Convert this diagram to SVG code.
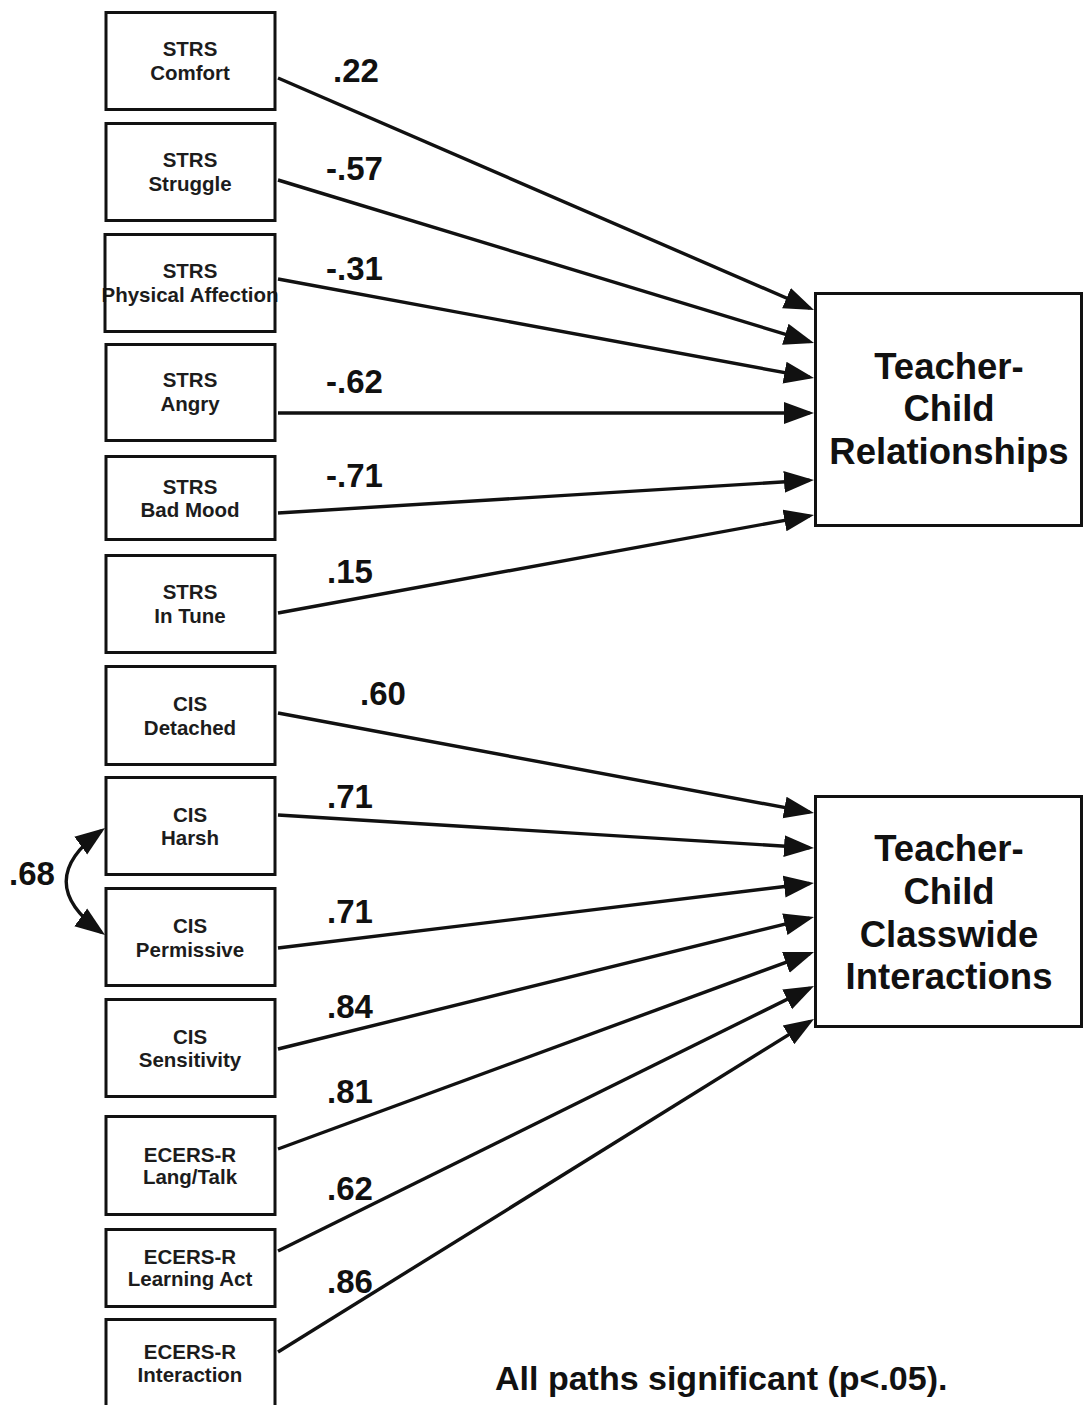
<svg xmlns="http://www.w3.org/2000/svg" width="1084" height="1405" viewBox="0 0 1084 1405">
  <style>
    .box { fill: #ffffff; stroke: #111111; stroke-width: 3; }
    .lbl { font-family: "Liberation Sans", Arial, sans-serif; font-weight: bold; font-size: 20.5px; fill: #1c1c1c; text-anchor: middle; }
    .big { font-family: "Liberation Sans", Arial, sans-serif; font-weight: bold; font-size: 36.5px; fill: #111111; text-anchor: middle; }
    .coef { font-family: "Liberation Sans", Arial, sans-serif; font-weight: bold; font-size: 33px; fill: #111111; }
    .note { font-family: "Liberation Sans", Arial, sans-serif; font-weight: bold; font-size: 34px; fill: #111111; }
    .path { fill: none; stroke: #111111; stroke-width: 3.4; marker-end: url(#head); }
    .cov { fill: none; stroke: #111111; stroke-width: 3.4; marker-start: url(#head); marker-end: url(#head); }
  </style>
  <defs>
    <marker id="head" markerUnits="userSpaceOnUse" markerWidth="32" markerHeight="24" refX="25.5" refY="11" orient="auto-start-reverse" viewBox="0 0 32 22">
      <path d="M0,0 L30,11 L0,22 z" fill="#111111"/>
    </marker>
  </defs>
  <rect width="1084" height="1405" fill="#ffffff"/>

  <!-- path coefficients -->
  <g id="connectors">
    <line class="path" x1="278" y1="78" x2="809.9" y2="308.2"/>
    <line class="path" x1="278" y1="180" x2="809.7" y2="341.7"/>
    <line class="path" x1="278" y1="279" x2="809.6" y2="377.2"/>
    <line class="path" x1="278" y1="413" x2="809.5" y2="413"/>
    <line class="path" x1="278" y1="513" x2="809.5" y2="480.3"/>
    <line class="path" x1="278" y1="613" x2="809.6" y2="515.8"/>
    <line class="path" x1="278" y1="713" x2="809.6" y2="812.2"/>
    <line class="path" x1="278" y1="815" x2="809.5" y2="847.7"/>
    <line class="path" x1="278" y1="948" x2="809.5" y2="883.5"/>
    <line class="path" x1="278" y1="1049" x2="809.6" y2="918.1"/>
    <line class="path" x1="278" y1="1149" x2="809.8" y2="953.6"/>
    <line class="path" x1="278" y1="1251" x2="810" y2="988"/>
    <line class="path" x1="278" y1="1352" x2="810.2" y2="1021.4"/>
    <!-- covariance between Harsh and Permissive -->
    <path class="cov" d="M101.4,830.6 Q31,881.5 101.4,932.4"/>
  </g>

  <g id="coefficients">
    <text class="coef" x="333" y="82">.22</text>
    <text class="coef" x="326" y="180">-.57</text>
    <text class="coef" x="326" y="280">-.31</text>
    <text class="coef" x="326" y="393">-.62</text>
    <text class="coef" x="326" y="487">-.71</text>
    <text class="coef" x="327" y="583">.15</text>
    <text class="coef" x="360" y="705">.60</text>
    <text class="coef" x="327" y="808">.71</text>
    <text class="coef" x="327" y="923">.71</text>
    <text class="coef" x="327" y="1018">.84</text>
    <text class="coef" x="327" y="1103">.81</text>
    <text class="coef" x="327" y="1200">.62</text>
    <text class="coef" x="327" y="1293">.86</text>
    <text class="coef" x="9" y="885">.68</text>
  </g>

  <!-- indicator boxes -->
  <g id="strs-comfort">
    <rect class="box" x="106" y="12.5" width="169" height="97"/>
    <text class="lbl" x="190" y="56">STRS</text>
    <text class="lbl" x="190" y="80">Comfort</text>
  </g>
  <g id="strs-struggle">
    <rect class="box" x="106" y="123.5" width="169" height="97"/>
    <text class="lbl" x="190" y="167">STRS</text>
    <text class="lbl" x="190" y="191">Struggle</text>
  </g>
  <g id="strs-physical-affection">
    <text class="lbl" x="190" y="278">STRS</text>
    <text class="lbl" x="190" y="302">Physical Affection</text>
    <rect class="box" x="105" y="234.5" width="170" height="97" style="fill:none"/>
  </g>
  <g id="strs-angry">
    <rect class="box" x="106" y="344.5" width="169" height="96"/>
    <text class="lbl" x="190" y="387">STRS</text>
    <text class="lbl" x="190" y="411">Angry</text>
  </g>
  <g id="strs-bad-mood">
    <rect class="box" x="106" y="456.5" width="169" height="83"/>
    <text class="lbl" x="190" y="494">STRS</text>
    <text class="lbl" x="190" y="517">Bad Mood</text>
  </g>
  <g id="strs-in-tune">
    <rect class="box" x="106" y="555.5" width="169" height="97"/>
    <text class="lbl" x="190" y="599">STRS</text>
    <text class="lbl" x="190" y="623">In Tune</text>
  </g>
  <g id="cis-detached">
    <rect class="box" x="106" y="666.5" width="169" height="98"/>
    <text class="lbl" x="190" y="711">CIS</text>
    <text class="lbl" x="190" y="735">Detached</text>
  </g>
  <g id="cis-harsh">
    <rect class="box" x="106" y="777.5" width="169" height="97"/>
    <text class="lbl" x="190" y="822">CIS</text>
    <text class="lbl" x="190" y="845">Harsh</text>
  </g>
  <g id="cis-permissive">
    <rect class="box" x="106" y="888.5" width="169" height="97"/>
    <text class="lbl" x="190" y="933">CIS</text>
    <text class="lbl" x="190" y="957">Permissive</text>
  </g>
  <g id="cis-sensitivity">
    <rect class="box" x="106" y="999.5" width="169" height="97"/>
    <text class="lbl" x="190" y="1044">CIS</text>
    <text class="lbl" x="190" y="1067">Sensitivity</text>
  </g>
  <g id="ecers-lang-talk">
    <rect class="box" x="106" y="1116.5" width="169" height="98"/>
    <text class="lbl" x="190" y="1162">ECERS-R</text>
    <text class="lbl" x="190" y="1184">Lang/Talk</text>
  </g>
  <g id="ecers-learning-act">
    <rect class="box" x="106" y="1229.5" width="169" height="77"/>
    <text class="lbl" x="190" y="1264">ECERS-R</text>
    <text class="lbl" x="190" y="1286">Learning Act</text>
  </g>
  <g id="ecers-interaction">
    <rect class="box" x="106" y="1319.5" width="169" height="100"/>
    <text class="lbl" x="190" y="1359">ECERS-R</text>
    <text class="lbl" x="190" y="1382">Interaction</text>
  </g>

  <!-- latent constructs -->
  <g id="teacher-child-relationships">
    <rect class="box" x="815.5" y="293.5" width="266" height="232"/>
    <text class="big" x="949" y="379">Teacher-</text>
    <text class="big" x="949" y="421">Child</text>
    <text class="big" x="949" y="464">Relationships</text>
  </g>
  <g id="teacher-child-classwide-interactions">
    <rect class="box" x="815.5" y="796.5" width="266" height="230"/>
    <text class="big" x="949" y="861">Teacher-</text>
    <text class="big" x="949" y="904">Child</text>
    <text class="big" x="949" y="947">Classwide</text>
    <text class="big" x="949" y="989">Interactions</text>
  </g>

  <text class="note" x="495" y="1390">All paths significant (p&lt;.05).</text>
</svg>
